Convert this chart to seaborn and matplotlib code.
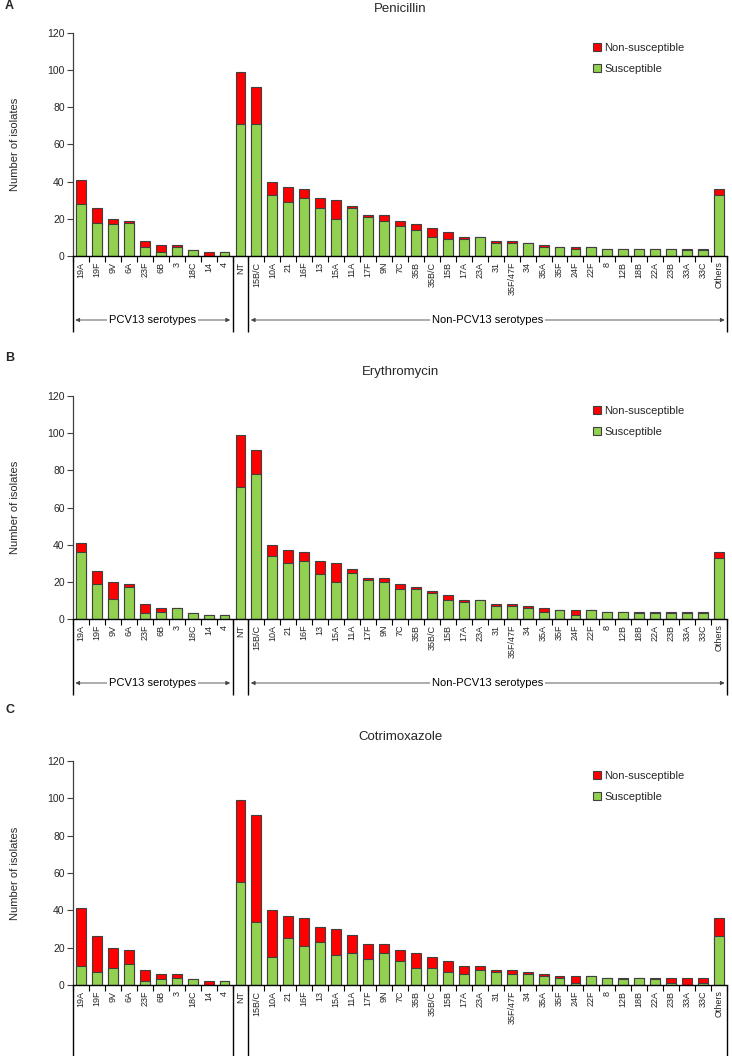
import matplotlib
matplotlib.use("Agg")
import matplotlib.pyplot as plt
import matplotlib.transforms as mtransforms
from matplotlib.patches import Patch
import numpy as np
import pandas as pd
import seaborn as sns

# ---------------- data ----------------
serotypes = ["19A", "19F", "9V", "6A", "23F", "6B", "3", "18C", "14", "4", "NT",
             "15B/C", "10A", "21", "16F", "13", "15A", "11A", "17F", "9N", "7C",
             "35B", "35B/C", "15B", "17A", "23A", "31", "35F/47F", "34", "35A",
             "35F", "24F", "22F", "8", "12B", "18B", "22A", "23B", "33A", "33C",
             "Others"]

total_isolates = [41, 26, 20, 19, 8, 6, 6, 3, 2, 2, 99,
                  91, 40, 37, 36, 31, 30, 27, 22, 22, 19,
                  17, 15, 13, 10, 10, 8, 8, 7, 6,
                  5, 5, 5, 4, 4, 4, 4, 4, 4, 4,
                  36]

penicillin_susceptible = [28, 18, 17, 18, 5, 2, 5, 3, 0, 2, 71,
                          71, 33, 29, 31, 26, 20, 26, 21, 19, 16,
                          14, 10, 9, 9, 10, 7, 7, 7, 5,
                          5, 4, 5, 4, 4, 4, 4, 4, 3, 3,
                          33]

erythromycin_susceptible = [36, 19, 11, 17, 3, 4, 6, 3, 2, 2, 71,
                            78, 34, 30, 31, 24, 20, 25, 21, 20, 16,
                            16, 14, 10, 9, 10, 7, 7, 6, 4,
                            5, 2, 5, 4, 4, 3, 3, 3, 3, 3,
                            33]

cotrimoxazole_susceptible = [10, 7, 9, 11, 2, 3, 4, 3, 0, 2, 55,
                             34, 15, 25, 21, 23, 16, 17, 14, 17, 13,
                             9, 9, 7, 6, 8, 7, 6, 6, 5,
                             4, 1, 5, 4, 3, 4, 3, 1, 0, 1,
                             26]

panel_letters = ["A", "B", "C"]
panel_titles = ["Penicillin", "Erythromycin", "Cotrimoxazole"]
legend_labels = ["Non-susceptible", "Susceptible"]
group_labels = ["PCV13 serotypes", "Non-PCV13 serotypes"]
y_ticks = [0, 20, 40, 60, 80, 100, 120]

# ---------------- style ----------------
RED = "#FF0000"
GREEN = "#92D050"
EDGE = "#404040"

sns.set_style("ticks")
plt.rcParams["font.family"] = ["Liberation Sans", "DejaVu Sans"]

W, H = 732, 1056
fig = plt.figure(figsize=(W / 100, H / 100), dpi=100)

ax_left, ax_right = 73, 727
panel_px = [(32.7, 256), (396, 619), (761, 985)]  # (top, bottom) in pixels
letter_y = [6, 358, 710]
sus_sets = [penicillin_susceptible, erythromycin_susceptible, cotrimoxazole_susceptible]

n = len(serotypes)
for i, ((top, bottom), sus) in enumerate(zip(panel_px, sus_sets)):
    ax = fig.add_axes([ax_left / W, 1 - bottom / H, (ax_right - ax_left) / W, (bottom - top) / H])
    df = pd.DataFrame({"serotype": serotypes, "total": total_isolates, "susceptible": sus})
    df["non_susceptible"] = df["total"] - df["susceptible"]

    sns.barplot(data=df, x="serotype", y="total", order=serotypes, color=RED,
                saturation=1, width=0.62, edgecolor=EDGE, linewidth=0.8,
                errorbar=None, ax=ax)
    sns.barplot(data=df, x="serotype", y="susceptible", order=serotypes, color=GREEN,
                saturation=1, width=0.62, edgecolor=EDGE, linewidth=0.8,
                errorbar=None, ax=ax)

    ax.set_xlim(-0.5, n - 0.5)
    ax.set_ylim(0, 120)
    ax.set_yticks(y_ticks)
    ax.tick_params(axis="y", labelsize=7.5, length=4, width=0.8, color="#404040", pad=2)
    ax.tick_params(axis="x", labelsize=6.5, rotation=90, length=0, pad=4)
    ax.set_xticks(np.arange(n), serotypes)
    ax.set_xticks(np.arange(n + 1) - 0.5, minor=True)
    ax.tick_params(axis="x", which="minor", length=4, width=0.8, color="black")
    ax.set_xlabel("")
    ax.set_ylabel("Number of isolates", fontsize=8)
    ax.yaxis.set_label_coords(-0.081, 0.5)
    sns.despine(ax=ax, top=True, right=True)
    ax.spines["left"].set_color("#404040")
    ax.spines["left"].set_linewidth(0.9)
    ax.spines["bottom"].set_color("black")
    ax.spines["bottom"].set_linewidth(1.0)

    fig.text((ax_left + ax_right) / 2 / W, 1 - (top - 24) / H, panel_titles[i],
             fontsize=9.5, ha="center", va="center")
    fig.text(5 / W, 1 - letter_y[i] / H, panel_letters[i], fontsize=9, fontweight="bold",
             ha="left", va="center")

    handles = [Patch(facecolor=RED, edgecolor=EDGE, linewidth=0.8),
               Patch(facecolor=GREEN, edgecolor=EDGE, linewidth=0.8)]
    ax.legend(handles, legend_labels, loc="upper left",
              bbox_to_anchor=((593 - ax_left) / (ax_right - ax_left), 0.955),
              frameon=False, fontsize=8, handlelength=0.75, handleheight=0.75,
              handletextpad=0.25, labelspacing=1.0, borderpad=0, borderaxespad=0)

    # group separators and brackets below the axis
    trans = mtransforms.blended_transform_factory(ax.transData, ax.transAxes)
    h_px = bottom - top
    line_end = -76 / h_px if i < 2 else -(H - bottom + 2) / h_px
    for xb in [-0.5, 9.5, 10.5, n - 0.5]:
        ax.plot([xb, xb], [0, line_end], transform=trans, color="black",
                lw=1.0, clip_on=False, solid_capstyle="butt")
    if i < 2:
        yb = -64 / h_px
        for (x0, x1), lab in zip([(-0.35, 9.35), (10.65, n - 0.65)], group_labels):
            ax.annotate("", xy=(x0, yb), xytext=(x1, yb), xycoords=trans, textcoords=trans,
                        arrowprops=dict(arrowstyle="<|-|>", color="#404040", lw=0.6,
                                        mutation_scale=6, shrinkA=0, shrinkB=0),
                        annotation_clip=False)
            ax.text((x0 + x1) / 2, yb, lab, transform=trans, ha="center", va="center",
                    fontsize=8, color="black",
                    bbox=dict(facecolor="white", edgecolor="none", pad=1.5))

fig.savefig("out.png", dpi=100)
